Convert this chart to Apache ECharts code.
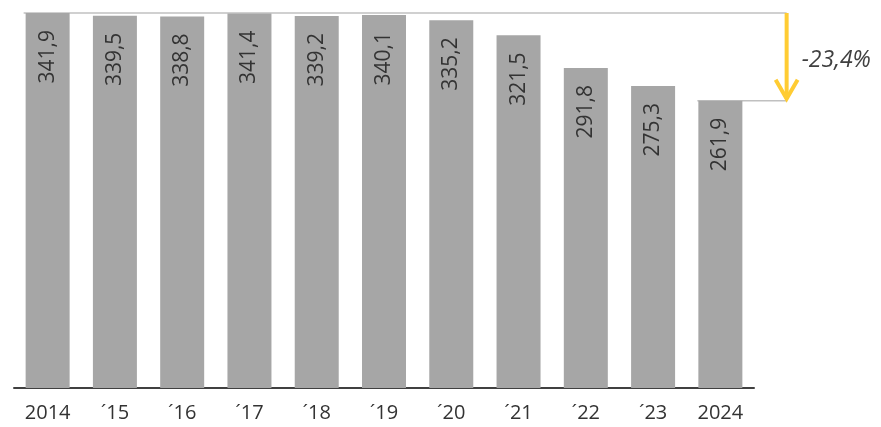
<!DOCTYPE html>
<html>
<head>
<meta charset="utf-8">
<script src="https://cdn.jsdelivr.net/npm/echarts@6/dist/echarts.min.js"></script>
<style>
  html, body { margin: 0; padding: 0; background: #fff; }
  #chart { width: 881px; height: 427px; }
</style>
</head>
<body>
<div id="chart"></div>
<script>
const years = ['2014', '´15', '´16', '´17', '´18', '´19', '´20', '´21', '´22', '´23', '2024'];
const values = [341.9, 339.5, 338.8, 341.4, 339.2, 340.1, 335.2, 321.5, 291.8, 275.3, 261.9];
const changeLabel = '-23,4%';

const chart = echarts.init(document.getElementById('chart'));
const font = '"Open Sans", sans-serif';

chart.setOption({
    animation: false,
    grid: { left: 14, right: 127, top: 13, bottom: 39 },
    xAxis: {
        type: 'category',
        data: years,
        axisTick: { show: false },
        axisLine: { lineStyle: { color: '#404040', width: 2 } },
        axisLabel: { color: '#333', fontSize: 20, fontFamily: font, margin: 15 }
    },
    yAxis: {
        type: 'value',
        min: 0,
        max: 341.9,
        show: false,
        splitLine: { show: false }
    },
    series: [{
        type: 'bar',
        data: values,
        barWidth: 44,
        itemStyle: { color: '#a6a6a6' },
        label: {
            show: true,
            position: 'insideTop',
            rotate: 90,
            align: 'right',
            verticalAlign: 'middle',
            distance: 17,
            color: '#333',
            fontSize: 21,
            fontFamily: font,
            formatter: p => p.value.toFixed(1).replace('.', ',')
        }
    }]
});

// annotation: drop from first to last year
const first = chart.convertToPixel({ seriesIndex: 0 }, [0, values[0]]);
const last = chart.convertToPixel({ seriesIndex: 0 }, [values.length - 1, values[values.length - 1]]);
const prev = chart.convertToPixel({ seriesIndex: 0 }, [values.length - 2, values[values.length - 2]]);
const step = last[0] - prev[0];
const ax = last[0] + step - 1;
const yellow = '#ffcc33';

chart.setOption({
    graphic: [
        { type: 'line', shape: { x1: first[0] - 24, y1: first[1], x2: ax, y2: first[1] },
          style: { stroke: '#c0c0c0', lineWidth: 1.5 } },
        { type: 'line', shape: { x1: last[0] - 23, y1: last[1], x2: ax, y2: last[1] },
          style: { stroke: '#c0c0c0', lineWidth: 1.5 } },
        { type: 'line', shape: { x1: ax, y1: first[1], x2: ax, y2: last[1] - 2 },
          style: { stroke: yellow, lineWidth: 4 } },
        { type: 'polyline', shape: { points: [[ax - 11, last[1] - 21], [ax, last[1] - 2], [ax + 11, last[1] - 21]] },
          style: { stroke: yellow, lineWidth: 4, fill: null } },
        { type: 'text', x: ax + 15, y: (first[1] + last[1]) / 2 + 4,
          style: { text: changeLabel, fill: '#404040', fontSize: 23, fontStyle: 'italic',
                   fontFamily: font, verticalAlign: 'middle', align: 'left' } }
    ]
});
</script>
</body>
</html>
